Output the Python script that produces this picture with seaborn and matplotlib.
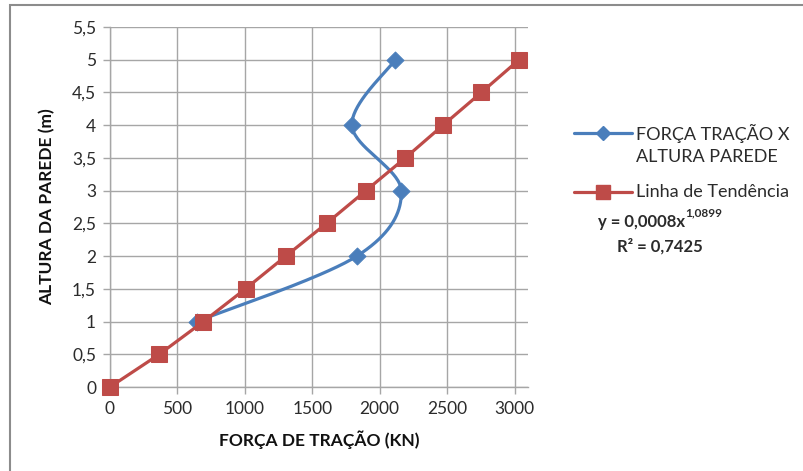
import numpy as np
import pandas as pd
import matplotlib
matplotlib.use("Agg")
import matplotlib.pyplot as plt
from matplotlib.patches import Rectangle
from matplotlib.lines import Line2D
import seaborn as sns

# ---- data ----
blue_force = [643, 1831, 2160, 1794, 2116]
blue_height = [1, 2, 3, 4, 5]
red_force = [0, 366, 693, 1005, 1304, 1606, 1898, 2190, 2470, 2754, 3034]
red_height = [0, 0.5, 1, 1.5, 2, 2.5, 3, 3.5, 4, 4.5, 5]
x_ticks = [0, 500, 1000, 1500, 2000, 2500, 3000]
y_ticks = [0, 0.5, 1, 1.5, 2, 2.5, 3, 3.5, 4, 4.5, 5, 5.5]
y_ticklabels = ["0", "0,5", "1", "1,5", "2", "2,5", "3", "3,5", "4", "4,5", "5", "5,5"]
blue_label = ["FORÇA TRAÇÃO X", "ALTURA PAREDE"]
red_label = "Linha de Tendência"
eq_text = "y = 0,0008x"
eq_exp = "1,0899"
r2_text = "R² = 0,7425"

BLUE = "#4A7EBB"
RED = "#BE4B48"
GRID = "#A6A6A6"
TXT = "#2B2B2B"
FONT = ["Lato", "DejaVu Sans"]

sns.set_theme(style="white")
plt.rcParams["font.family"] = FONT

fig = plt.figure(figsize=(8.04, 4.71), dpi=100)
W, H = 804, 471
ax = fig.add_axes([110 / W, 1 - 387 / H, (528 - 110) / W, (387 - 27) / H])

# smooth curve (Catmull-Rom, like Excel smoothed line) through blue points
def catmull(xs, ys, n=40):
    P = np.column_stack([xs, ys]).astype(float)
    P = np.vstack([P[0], P, P[-1]])
    out = []
    for i in range(1, len(P) - 2):
        p0, p1, p2, p3 = P[i - 1], P[i], P[i + 1], P[i + 2]
        t = np.linspace(0, 1, n)[:, None]
        seg = 0.5 * ((2 * p1) + (-p0 + p2) * t + (2 * p0 - 5 * p1 + 4 * p2 - p3) * t ** 2
                     + (-p0 + 3 * p1 - 3 * p2 + p3) * t ** 3)
        out.append(seg)
    return np.vstack(out)

curve = catmull(blue_force, blue_height)
ax.plot(curve[:, 0], curve[:, 1], color=BLUE, lw=2.3, zorder=3, solid_capstyle="round")
sns.scatterplot(x=blue_force, y=blue_height, marker="D", s=75, color=BLUE,
                edgecolor=BLUE, ax=ax, zorder=4, clip_on=False)

red_df = pd.DataFrame({"f": red_force, "h": red_height})
sns.lineplot(data=red_df, x="f", y="h", sort=False, color=RED, lw=2.3, marker="s",
             markersize=11, markeredgecolor=RED, ax=ax, zorder=5, clip_on=False)

ax.set_xlim(0, 3100)
ax.set_ylim(0, 5.5)
ax.set_xticks(x_ticks)
ax.set_xticklabels([str(v) for v in x_ticks])
ax.set_yticks(y_ticks)
ax.set_yticklabels(y_ticklabels)
ax.grid(True, color=GRID, lw=1)
ax.set_axisbelow(True)
for s in ["top", "right"]:
    ax.spines[s].set_visible(False)
for s in ["left", "bottom"]:
    ax.spines[s].set_color(GRID)
    ax.spines[s].set_linewidth(1)
ax.tick_params(axis="both", which="major", length=5, width=1, color=GRID,
               labelsize=12.5, labelcolor=TXT, direction="out", pad=5,
               bottom=True, left=True)
ax.set_xlabel("FORÇA DE TRAÇÃO (KN)", fontsize=12.5, fontweight="bold", color="#111111", labelpad=10)
ax.set_ylabel("ALTURA DA PAREDE (m)", fontsize=12.5, fontweight="bold", color="#111111", labelpad=12)

# legend drawn in figure pixels (handle aligned with the first text line, Excel-style)
def fx(px):
    return px / W

def fy(py):
    return 1 - py / H

hx0, hx1, tx = 574, 632, 636
fig.add_artist(Line2D([fx(hx0), fx(hx1)], [fy(133), fy(133)], color=BLUE, lw=2.3,
                      transform=fig.transFigure))
fig.add_artist(Line2D([fx((hx0 + hx1) / 2)], [fy(133)], color=BLUE, marker="D",
                      markersize=7, transform=fig.transFigure))
fig.text(fx(tx), fy(133), blue_label[0], fontsize=13, color=TXT, va="center", ha="left")
fig.text(fx(tx), fy(157), blue_label[1], fontsize=13, color=TXT, va="center", ha="left")
fig.add_artist(Line2D([fx(hx0), fx(hx1)], [fy(192), fy(192)], color=RED, lw=2.3,
                      transform=fig.transFigure))
fig.add_artist(Line2D([fx((hx0 + hx1) / 2)], [fy(192)], color=RED, marker="s",
                      markersize=10, transform=fig.transFigure))
fig.text(fx(tx), fy(192), red_label, fontsize=13, color=TXT, va="center", ha="left")

t1 = fig.text(fx(598), fy(222), eq_text, fontsize=12, fontweight="bold",
              color=TXT, va="center", ha="left")
fig.canvas.draw()
ax.annotate(eq_exp, xy=(1, 0.72), xycoords=t1, fontsize=8.5, fontweight="bold",
            color=TXT, va="bottom", ha="left", annotation_clip=False)
fig.text(fx(617), fy(246), r2_text, fontsize=12, fontweight="bold",
         color=TXT, va="center", ha="left")

# outer chart border
fig.patches.append(Rectangle((10 / W, -0.05), 1.0, 1 - 5 / H + 0.05,
                             transform=fig.transFigure, fill=False,
                             edgecolor="#8C8C8C", lw=1.5, clip_on=False))

fig.savefig("out.png", dpi=100)
